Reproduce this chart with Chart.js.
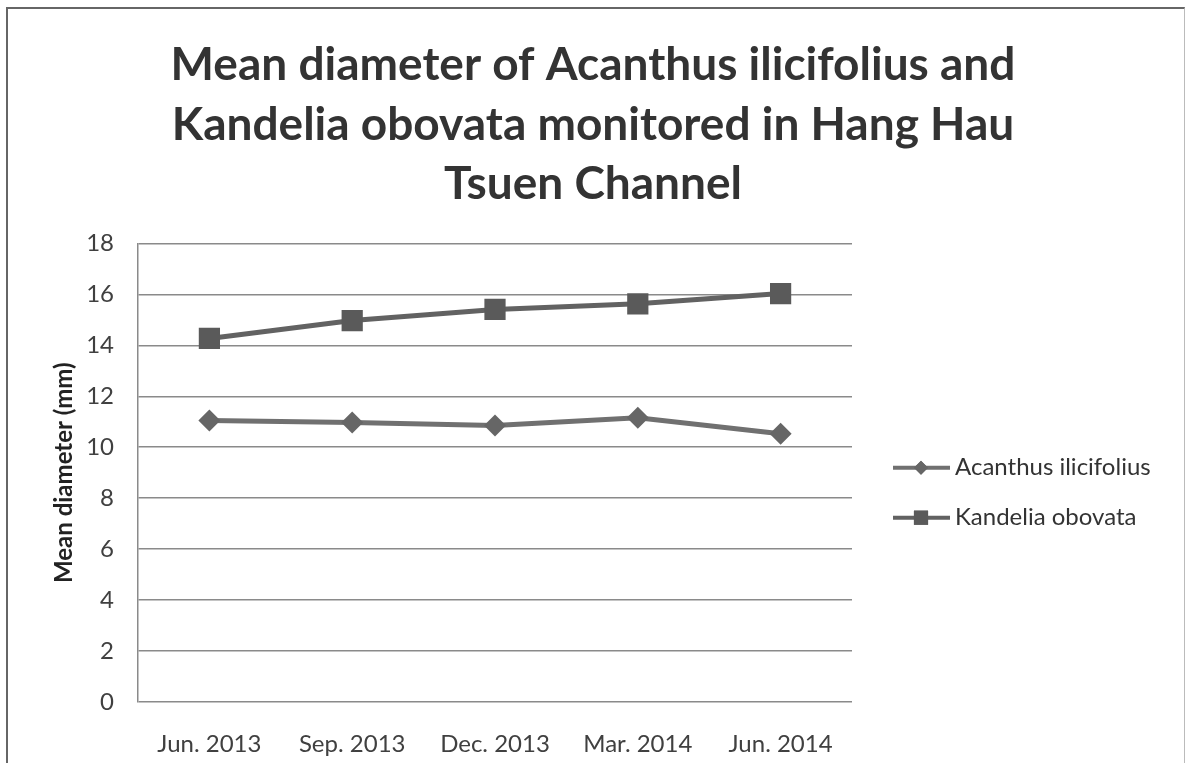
<!DOCTYPE html>
<html>
<head>
<meta charset="utf-8">
<script src="https://cdn.jsdelivr.net/npm/chart.js@4"></script>
<style>
  html, body { margin: 0; padding: 0; background: #fff; }
  #frame { position: absolute; left: 6px; top: 7px; width: 1176px; height: 770px;
           border-top: 2px solid #666; border-left: 2px solid #666; border-right: 1px solid #bbb; }
  #wrap { position: absolute; left: 0; top: 0; width: 1186px; height: 763px; }
</style>
</head>
<body>
<div id="frame"></div>
<div id="wrap"><canvas id="diameterChart" width="1186" height="763"></canvas></div>
<script>
const ctx = document.getElementById('diameterChart').getContext('2d');

// Data
const months = ['Jun. 2013', 'Sep. 2013', 'Dec. 2013', 'Mar. 2014', 'Jun. 2014'];
const acanthus = [11.05, 10.97, 10.85, 11.16, 10.53];
const kandelia = [14.27, 14.97, 15.41, 15.63, 16.03];
const yTicks = [0, 2, 4, 6, 8, 10, 12, 14, 16, 18];

const font = 'Lato, "Open Sans", sans-serif';

// Legend drawn as line + marker like the original
const sideLegend = {
    id: 'sideLegend',
    afterDraw(chart) {
        const c = chart.ctx;
        const area = chart.chartArea;
        const mid = (area.top + area.bottom) / 2 + 20;
        chart.data.datasets.forEach((ds, i) => {
            const y = mid - 25 + i * 50;
            const x0 = area.right + 41;
            const r = ds.pointStyle === 'rect' ? 10 : 7;
            c.save();
            c.strokeStyle = ds.borderColor;
            c.lineWidth = 4;
            c.beginPath();
            c.moveTo(x0, y);
            c.lineTo(x0 + 57, y);
            c.stroke();
            c.fillStyle = ds.pointBackgroundColor;
            Chart.helpers.drawPoint(c, { pointStyle: ds.pointStyle, radius: r, borderWidth: 0 }, x0 + 28, y);
            c.fill();
            c.fillStyle = '#333';
            c.font = '24px ' + font;
            c.textBaseline = 'middle';
            c.textAlign = 'left';
            c.fillText(ds.label, x0 + 62, y);
            c.restore();
        });
    }
};

const chart = new Chart(ctx, {
    type: 'line',
    data: {
        labels: months,
        datasets: [{
            label: 'Acanthus ilicifolius',
            data: acanthus,
            borderColor: '#707070',
            borderWidth: 5,
            pointStyle: 'rectRot',
            pointRadius: 11,
            pointBackgroundColor: '#666',
            pointBorderWidth: 0
        }, {
            label: 'Kandelia obovata',
            data: kandelia,
            borderColor: '#626262',
            borderWidth: 5,
            pointStyle: 'rect',
            pointRadius: 15,
            pointBackgroundColor: '#5a5a5a',
            pointBorderWidth: 0
        }]
    },
    options: {
        responsive: false,
        animation: false,
        layout: { padding: { top: 10, left: 0, right: 0, bottom: 0 } },
        plugins: {
            legend: { display: false },
            tooltip: { enabled: false },
            title: {
                display: true,
                text: ['Mean diameter of Acanthus ilicifolius and',
                       'Kandelia obovata monitored in Hang Hau',
                       'Tsuen Channel'],
                color: '#333',
                font: { family: font, size: 46, weight: 'bold', lineHeight: 1.3 },
                padding: { top: 25, bottom: 29 }
            }
        },
        scales: {
            x: {
                offset: true,
                grid: { display: false },
                border: { display: false },
                ticks: { color: '#404040', padding: 20, font: { family: font, size: 24 } },
                afterFit(scale) { scale.height = 61; }
            },
            y: {
                min: 0,
                max: 18,
                afterBuildTicks(scale) { scale.ticks = yTicks.map(v => ({ value: v })); },
                grid: { color: '#8a8a8a', lineWidth: 1.5, drawTicks: false },
                border: { display: true, color: '#8a8a8a', width: 1.5 },
                ticks: { color: '#404040', padding: 24, font: { family: font, size: 24 } },
                title: {
                    display: true,
                    text: 'Mean diameter (mm)',
                    color: '#222',
                    padding: { top: 50, bottom: 4 },
                    font: { family: font, size: 24, weight: 'bold' }
                },
                afterFit(scale) { scale.width = 138; }
            },
            // empty right-hand scale that keeps room for the legend
            side: {
                position: 'right',
                display: true,
                grid: { display: false },
                border: { display: false },
                ticks: { display: false },
                afterFit(scale) { scale.width = 334; }
            }
        }
    },
    plugins: [sideLegend]
});
</script>
</body>
</html>
